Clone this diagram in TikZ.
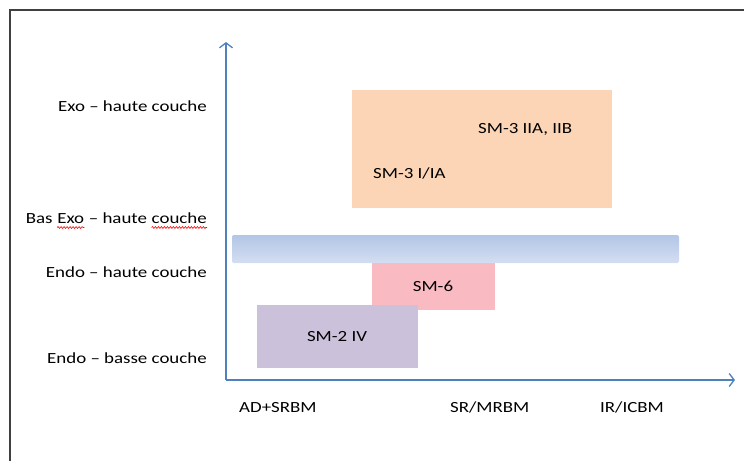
\documentclass[tikz,border=0pt]{standalone}
\usepackage{fontspec}
\setmainfont{Carlito}[FakeStretch=1.22]
\usepackage{tikz}
\usetikzlibrary{arrows.meta,positioning,calc,decorations.pathmorphing}
\definecolor{axisblue}{HTML}{4F81BD}
\definecolor{exoorange}{HTML}{FBD5B5}
\definecolor{bandblue}{HTML}{B3C6E7}
\definecolor{bandlight}{HTML}{D3DEF1}
\definecolor{smpink}{HTML}{F9BAC2}
\definecolor{smpurple}{HTML}{CCC1DA}
\tikzset{
	>={Straight Barb[length=5pt,width=13pt]}, % open arrow heads on the axes
	x=1pt, y=-1pt, % pixel-like coordinates, y going down
	every node/.style={font=\fontsize{15.5}{18}\selectfont, inner sep=0pt}, % text size of all labels
	axis/.style={->, draw=axisblue, line width=1.3pt}, % the two axes
	couchelabel/.style={anchor=base east}, % labels on the vertical axis
	portee/.style={anchor=base west}, % labels under the horizontal axis
	zone/.style={anchor=north west, outer sep=0pt}, % coloured boxes
	spellwave/.style={draw=red, line width=0.6pt, decorate, decoration={snake, amplitude=0.9pt, segment length=3pt}}, % red squiggle under a word
}

\begin{document}
\begin{tikzpicture}
	\useasboundingbox (0,0) rectangle (744,461);
	\draw[line width=1.6pt, black!75] (10,461) -- (10,10) -- (744,10);

	\coordinate (O) at (226,380);
	\coordinate (YTIP) at (226,42);
	\coordinate (XTIP) at (735,380);

	\node[zone, fill=exoorange, minimum width=260pt, minimum height=118pt] (SM3) at (352,90) {};
	\node[zone, top color=bandblue, bottom color=bandlight, rounded corners=2pt, minimum width=447pt, minimum height=28pt] (BAND) at (232,235) {};
	\node[zone, fill=smpink, minimum width=123pt, minimum height=47pt] (SM6_BOX) at (372,263) {};
	\node[zone, fill=smpurple, minimum width=161pt, minimum height=63pt] (SM2_BOX) at (257,305) {};

	\node[portee] (SM3_II) at (478,133) {SM-3 IIA, IIB};
	\node[portee] (SM3_I) at (373,178) {SM-3 I/IA};
	\node[anchor=base] (SM6) at (433,291) {SM-6};
	\node[anchor=base] (SM2) at (337,341) {SM-2 IV};

	\draw[axis] (O) -- (YTIP);
	\draw[axis] (O) -- (XTIP);

	\node[couchelabel] (EXO_HAUTE) at (207,111) {Exo -- haute couche};
	% Bas Exo line, cut in words so the squiggles sit under them
	\node[couchelabel] (BASEXO_COUCHE) at (207,223) {couche};
	\node[couchelabel] (BASEXO_HAUTE) at (BASEXO_COUCHE.base west) {\null\ -- haute\ \null};
	\node[couchelabel] (BASEXO_EXO) at (BASEXO_HAUTE.base west) {Exo};
	\node[couchelabel] (BASEXO_BAS) at (BASEXO_EXO.base west) {Bas\ \null};
	\draw[spellwave] ($(BASEXO_EXO.base west)+(0,4.5)$) -- ($(BASEXO_EXO.base east)+(0,4.5)$);
	\draw[spellwave] ($(BASEXO_COUCHE.base west)+(0,4.5)$) -- ($(BASEXO_COUCHE.base east)+(0,4.5)$);
	\node[couchelabel] (ENDO_HAUTE) at (207,277) {Endo -- haute couche};
	\node[couchelabel] (ENDO_BASSE) at (207,363) {Endo -- basse couche};

	\node[portee] (SRBM) at (239,412) {AD+SRBM};
	\node[portee] (MRBM) at (450,412) {SR/MRBM};
	\node[portee] (ICBM) at (600,412) {IR/ICBM};
\end{tikzpicture}
\end{document}
